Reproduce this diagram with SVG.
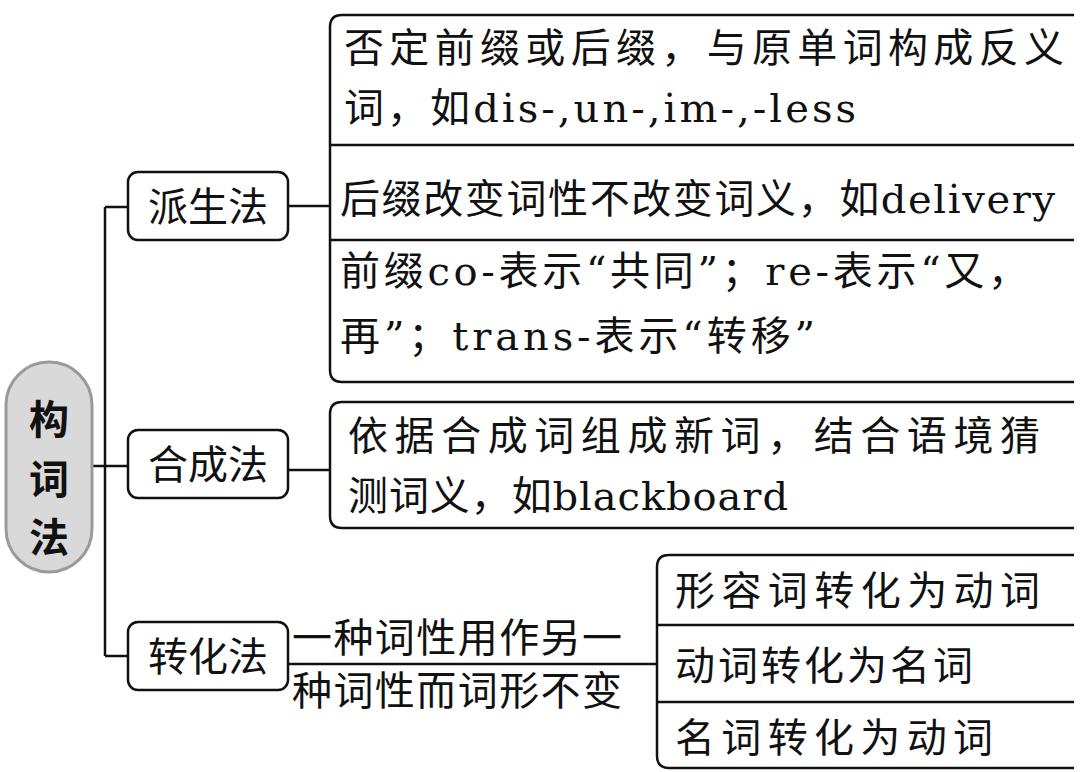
<svg xmlns="http://www.w3.org/2000/svg" width="1080" height="772" viewBox="0 0 1080 772">
<style>
.t{font-family:"DejaVu Serif","Noto Sans CJK SC",serif;font-size:40px;fill:#111}
.n{font-family:"Noto Sans CJK SC",sans-serif;font-size:40px;fill:#111;text-anchor:middle}
.b{fill:#fff;stroke:#111;stroke-width:2.5}
.l{fill:none;stroke:#111;stroke-width:2.5}
</style>
<rect width="1080" height="772" fill="#fff"/>
<g id="connectors">
<path class="l" d="M92 466H128M105 207V656M105 207H128M105 656H128M288 206H330M288 470H330M288 664H657"/>
</g>
<g id="root">
<rect x="6" y="362" width="86" height="210" rx="43" fill="#d9d9d9" stroke="#9a9a9a" stroke-width="3"/>
<text class="n" x="49" y="434" font-size="44" font-weight="bold">构</text>
<text class="n" x="49" y="494" font-size="44" font-weight="bold">词</text>
<text class="n" x="49" y="552" font-size="44" font-weight="bold">法</text>
</g>
<g id="n1"><rect class="b" x="128" y="172" width="160" height="68" rx="10"/><text class="n" x="208" y="221">派生法</text></g>
<g id="n2"><rect class="b" x="128" y="430" width="160" height="68" rx="10"/><text class="n" x="208" y="479">合成法</text></g>
<g id="n3"><rect class="b" x="128" y="622" width="160" height="68" rx="10"/><text class="n" x="208" y="671">转化法</text></g>
<g id="g1">
<path class="l" d="M1074 15H342Q330 15 330 27V370Q330 382 342 382H1074M330 145H1074M330 240H1074"/>
<text class="t" x="344" y="62" font-size="44" textLength="720">否定前缀或后缀，与原单词构成反义</text>
<text class="t" x="344" y="122" textLength="512">词，如dis-,un-,im-,-less</text>
<text class="t" x="340" y="213" textLength="715">后缀改变词性不改变词义，如delivery</text>
<text class="t" x="340" y="285" textLength="688">前缀co-表示“共同”；re-表示“又，</text>
<text class="t" x="340" y="350" textLength="475">再”；trans-表示“转移”</text>
</g>
<g id="g2">
<path class="l" d="M1074 402H342Q330 402 330 414V516Q330 528 342 528H1074"/>
<text class="t" x="348" y="450" font-size="44" textLength="692">依据合成词组成新词，结合语境猜</text>
<text class="t" x="348" y="510" textLength="440">测词义，如blackboard</text>
</g>
<g id="g3">
<text class="t" x="292" y="652" textLength="330">一种词性用作另一</text>
<text class="t" x="292" y="705" textLength="330">种词性而词形不变</text>
<path class="l" d="M1074 555H669Q657 555 657 567V756Q657 768 669 768H1074M657 625H1074M657 702H1074"/>
<text class="t" x="675" y="605" font-size="44" textLength="365">形容词转化为动词</text>
<text class="t" x="675" y="680" font-size="44" textLength="298">动词转化为名词</text>
<text class="t" x="675" y="752" font-size="44" textLength="318">名词转化为动词</text>
</g>
</svg>
